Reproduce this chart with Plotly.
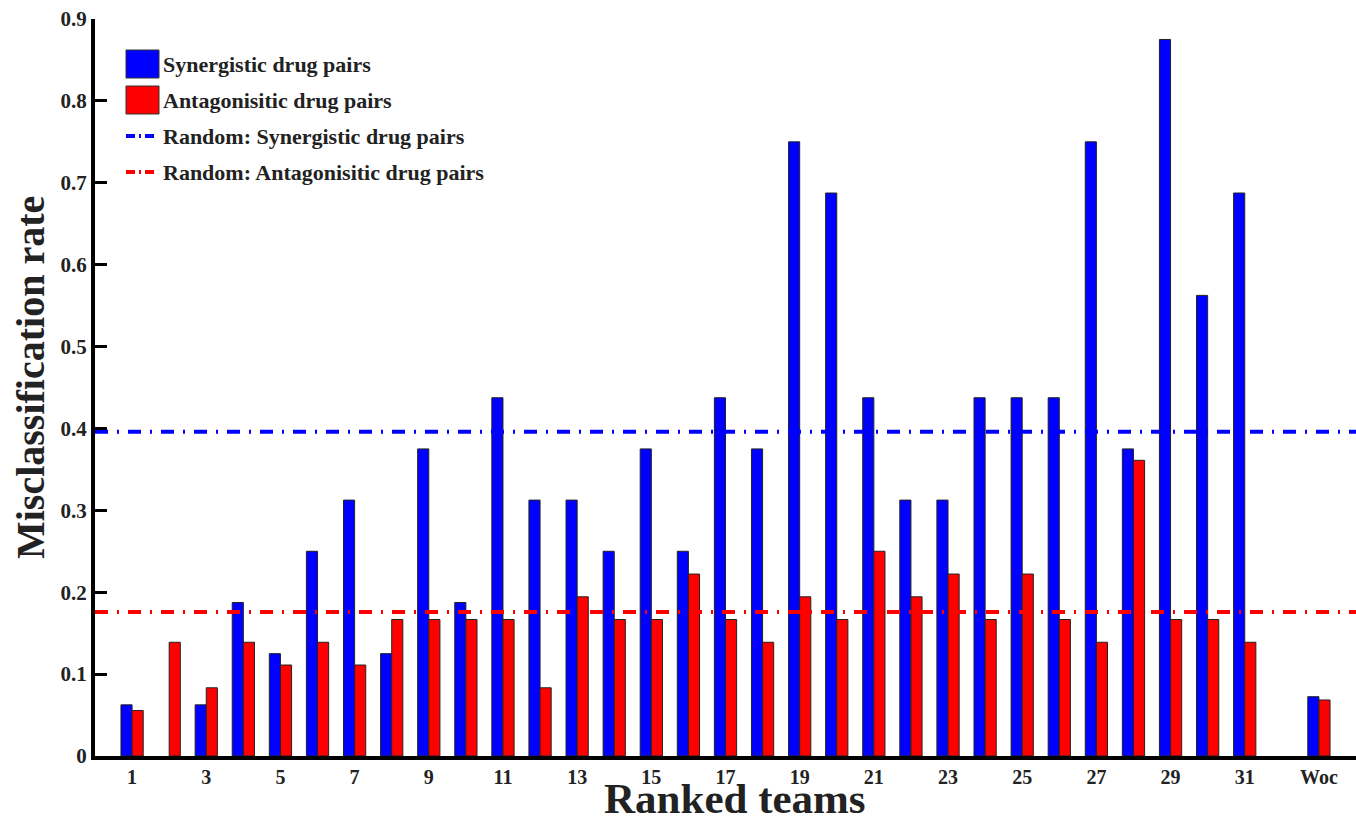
import plotly.graph_objects as go

# Ranked teams 1-31 plus the wisdom-of-crowds aggregate ("Woc")
team_labels = [str(i) for i in range(1, 32)] + ["Woc"]
team_pos = list(range(1, 32)) + [33]

# Misclassification rate per team
synergistic = [
    0.0625, 0.0, 0.0625, 0.1875, 0.125, 0.25, 0.3125, 0.125, 0.375, 0.1875,
    0.4375, 0.3125, 0.3125, 0.25, 0.375, 0.25, 0.4375, 0.375, 0.75, 0.6875,
    0.4375, 0.3125, 0.3125, 0.4375, 0.4375, 0.4375, 0.75, 0.375, 0.875, 0.5625,
    0.6875, 0.0724,
]
antagonistic = [
    0.0556, 0.1389, 0.0833, 0.1389, 0.1111, 0.1389, 0.1111, 0.1667, 0.1667, 0.1667,
    0.1667, 0.0833, 0.1944, 0.1667, 0.1667, 0.2222, 0.1667, 0.1389, 0.1944, 0.1667,
    0.25, 0.1944, 0.2222, 0.1667, 0.2222, 0.1667, 0.1389, 0.3611, 0.1667, 0.1667,
    0.1389, 0.0684,
]

# Random-guess baselines
random_synergistic = 0.396
random_antagonistic = 0.176

BLUE = "#0000ff"
RED = "#ff0000"
FONT = "Liberation Serif"
TEXT = "#222222"
X_RANGE = [0, 34]
DASH = "13px,9px,2px,9px"


def outline(values):
    # no outline on empty bars so a zero rate leaves no mark
    return [1 if v > 0 else 0 for v in values]


fig = go.Figure()

fig.add_trace(go.Bar(
    x=team_pos, y=synergistic, name="Synergistic drug pairs",
    marker=dict(color=BLUE, line=dict(color="#222222", width=outline(synergistic))),
    showlegend=False,
))
fig.add_trace(go.Bar(
    x=team_pos, y=antagonistic, name="Antagonisitic drug pairs",
    marker=dict(color=RED, line=dict(color="#222222", width=outline(antagonistic))),
    showlegend=False,
))
fig.add_trace(go.Scatter(
    x=X_RANGE, y=[random_synergistic] * 2, mode="lines",
    line=dict(color=BLUE, width=4, dash=DASH),
    name="Random: Synergistic drug pairs", showlegend=False,
))
fig.add_trace(go.Scatter(
    x=X_RANGE, y=[random_antagonistic] * 2, mode="lines",
    line=dict(color=RED, width=4, dash=DASH),
    name="Random: Antagonisitic drug pairs", showlegend=False,
))

# Plot area geometry (pixels) used to place the legend block and axis titles
W, H = 1356, 824
ML, MR, MT, MB = 95, 0, 19, 68
PW, PH = W - ML - MR, H - MT - MB


def px(xp):
    return (xp - ML) / PW


def py(yp):
    return (H - MB - yp) / PH


shapes = []
annotations = []

legend_items = [
    ("rect", BLUE, "Synergistic drug pairs", 50, 78),
    ("rect", RED, "Antagonisitic drug pairs", 86, 114),
    ("line", BLUE, "Random: Synergistic drug pairs", 136, 136),
    ("line", RED, "Random: Antagonisitic drug pairs", 172, 172),
]
for kind, color, text, y0, y1 in legend_items:
    if kind == "rect":
        shapes.append(dict(
            type="rect", xref="paper", yref="paper",
            x0=px(126), x1=px(159), y0=py(y1), y1=py(y0),
            fillcolor=color, line=dict(color="#333333", width=1),
        ))
    else:
        shapes.append(dict(
            type="line", xref="paper", yref="paper",
            x0=px(126), x1=px(156), y0=py(y0), y1=py(y0),
            line=dict(color=color, width=4, dash="9px,4px,2px,4px"),
        ))
    annotations.append(dict(
        xref="paper", yref="paper", x=px(161), y=py((y0 + y1) / 2),
        xanchor="left", yanchor="middle", showarrow=False, text=text,
        font=dict(family=FONT, size=22, color=TEXT, weight="bold"),
    ))

# x-axis title sits low, under the tick labels
annotations.append(dict(
    xref="paper", yref="paper", x=px(735), y=py(824),
    xanchor="center", yanchor="bottom", showarrow=False,
    text="Ranked teams",
    font=dict(family=FONT, size=43, color=TEXT, weight="bold"),
))

# y-axis title, rotated
annotations.append(dict(
    xref="paper", yref="paper", x=px(30), y=py(378),
    xanchor="center", yanchor="middle", showarrow=False, textangle=-90,
    text="Misclassification rate",
    font=dict(family=FONT, size=40, color=TEXT, weight="bold"),
))

fig.update_layout(
    width=W, height=H,
    margin=dict(l=ML, r=MR, t=MT, b=MB, pad=0),
    paper_bgcolor="white", plot_bgcolor="white",
    barmode="group", bargap=0.4, bargroupgap=0,
    shapes=shapes, annotations=annotations,
    font=dict(family=FONT, color=TEXT),
    xaxis=dict(
        range=X_RANGE, tickmode="array",
        tickvals=team_pos[0::2] + [team_pos[-1]],
        ticktext=team_labels[0::2] + [team_labels[-1]],
        showline=True, linecolor="black", linewidth=4,
        ticks="", showgrid=False, zeroline=False, automargin=False,
        tickfont=dict(family=FONT, size=20, color=TEXT, weight="bold"),
    ),
    yaxis=dict(
        range=[0, 0.9], dtick=0.1,
        showline=True, linecolor="black", linewidth=4,
        ticks="inside", ticklen=12, tickwidth=3, tickcolor="black",
        showgrid=False, zeroline=False, automargin=False,
        tickfont=dict(family=FONT, size=21, color=TEXT, weight="bold"),
    ),
)

fig.write_html("out.html")
